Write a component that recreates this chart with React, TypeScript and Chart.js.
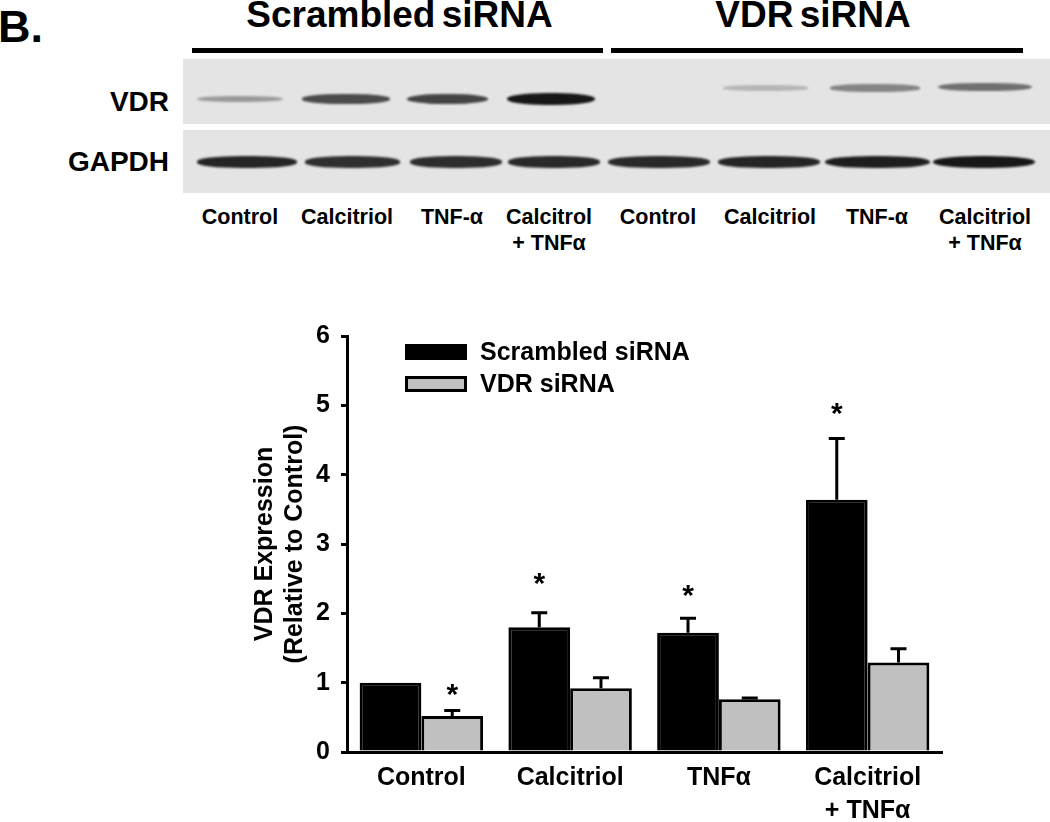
import React, { useEffect, useRef } from 'react';
import { Chart, registerables } from 'chart.js';

Chart.register(...registerables);
Chart.defaults.font.family = '"Liberation Sans", Arial, sans-serif';

// ---------- Bar chart data ----------
const categories: string[][] = [['Control'], ['Calcitriol'], ['TNFα'], ['Calcitriol', '+ TNFα']];
const seriesNames = ['Scrambled siRNA', 'VDR siRNA'];
const scrambledMeans = [1.0, 1.8, 1.72, 3.64];
const scrambledSEM = [0, 0.21, 0.21, 0.88];
const vdrMeans = [0.52, 0.92, 0.76, 1.29];
const vdrSEM = [0.08, 0.15, 0.02, 0.2];
const scrambledStars: (number | null)[] = [null, 2.54, 2.37, 4.99];
const vdrStars: (number | null)[] = [0.94, null, null, null];
const yTicks = [0, 1, 2, 3, 4, 5, 6];
const yTitle = ['VDR Expression', '(Relative to Control)'];

// ---------- Western blot data ----------
const panelLabel = 'B.';
const groupLabels = ['Scrambled siRNA', 'VDR siRNA'];
const blotRows = ['VDR', 'GAPDH'];
const laneLabels: string[][] = [
  ['Control'], ['Calcitriol'], ['TNF-α'], ['Calcitrol', '+ TNFα'],
  ['Control'], ['Calcitriol'], ['TNF-α'], ['Calcitriol', '+ TNFα'],
];
const vdrBandDensity = [0.35, 0.72, 0.75, 0.97, 0.0, 0.22, 0.45, 0.55];
const gapdhBandDensity = [0.9, 0.85, 0.86, 0.88, 0.88, 0.9, 0.93, 0.97];

// ---------- Blot layout (positions/sizes only) ----------
const laneLabelCenters = [240, 347, 452, 549, 658, 770, 877, 985];
const vdrBandCenters = [240, 346, 447, 551, 659, 765, 875, 985];
const vdrBandWidths = [86, 88, 81, 88, 90, 85, 90, 94];
const vdrBandY = [99, 99, 99, 99, 88, 88, 88, 87];
const gapdhBandCenters = [247, 352, 456, 554, 659, 769, 877, 984];
const gapdhBandWidths = [100, 95, 92, 92, 102, 102, 105, 102];
const gapdhBandY = 162;

const FONT = '"Liberation Sans", Arial, sans-serif';

const overlayPlugin = {
  id: 'overlay',
  afterDatasetsDraw(chart: any) {
    const ctx = chart.ctx as CanvasRenderingContext2D;
    const ys = chart.scales.y;
    const ca = chart.chartArea;
    chart.data.datasets.forEach((ds: any, di: number) => {
      const meta = chart.getDatasetMeta(di);
      meta.data.forEach((bar: any, i: number) => {
        const v = ds.data[i];
        const e = ds.errors[i];
        if (e > 0) {
          const yb = ys.getPixelForValue(v);
          const yt = ys.getPixelForValue(v + e);
          ctx.save();
          ctx.strokeStyle = '#000';
          ctx.lineWidth = 3;
          ctx.beginPath();
          ctx.moveTo(bar.x, yb);
          ctx.lineTo(bar.x, yt);
          ctx.moveTo(bar.x - 8, yt);
          ctx.lineTo(bar.x + 8, yt);
          ctx.stroke();
          ctx.restore();
        }
        const s = ds.stars[i];
        if (s != null) {
          ctx.save();
          ctx.fillStyle = '#000';
          ctx.font = `bold 30px ${FONT}`;
          ctx.textAlign = 'center';
          ctx.textBaseline = 'alphabetic';
          ctx.fillText('*', bar.x, ys.getPixelForValue(s) + 17);
          ctx.restore();
        }
      });
    });
    // legend
    const lx = ca.left + 58;
    const ly = ca.top + 8;
    chart.data.datasets.forEach((ds: any, i: number) => {
      const by = ly + i * 32;
      ctx.save();
      ctx.fillStyle = ds.backgroundColor;
      ctx.fillRect(lx, by, 62, 16);
      ctx.strokeStyle = '#000';
      ctx.lineWidth = 3;
      ctx.strokeRect(lx + 1.5, by + 1.5, 59, 13);
      ctx.fillStyle = '#000';
      ctx.font = `bold 25px ${FONT}`;
      ctx.textAlign = 'left';
      ctx.textBaseline = 'middle';
      ctx.fillText(ds.label, lx + 75, by + 9);
      ctx.restore();
    });
  },
};

function textTop(baseline: number, size: number, lineHeight: number) {
  return baseline - ((lineHeight - 1.117 * size) / 2 + 0.905 * size);
}

function Blot() {
  const abs: React.CSSProperties = { position: 'absolute' };
  return (
    <div style={{ ...abs, left: 0, top: 0, width: 1050, height: 260, fontFamily: FONT, fontWeight: 'bold', color: '#000' }}>
      <div style={{ ...abs, left: -2, top: textTop(42, 45, 45), fontSize: 45, lineHeight: '45px' }}>{panelLabel}</div>
      {groupLabels.map((g, i) => (
        <div key={g} style={{ ...abs, left: (i === 0 ? 399.5 : 813) - 200, width: 400, textAlign: 'center', top: textTop(27, 37, 37), fontSize: 37, lineHeight: '37px', whiteSpace: 'nowrap', wordSpacing: -4 }}>{g}</div>
      ))}
      <div style={{ ...abs, left: 192, top: 48, width: 411, height: 5, background: '#000' }} />
      <div style={{ ...abs, left: 611, top: 48, width: 412, height: 5, background: '#000' }} />
      <div style={{ ...abs, left: 183, top: 59, width: 867, height: 65, background: '#e4e4e4' }} />
      <div style={{ ...abs, left: 183, top: 130, width: 867, height: 63, background: '#e4e4e4' }} />
      {vdrBandDensity.map((d, i) => d > 0.01 ? (
        <div key={'v' + i} style={{ ...abs, left: vdrBandCenters[i] - vdrBandWidths[i] / 2, width: vdrBandWidths[i], top: vdrBandY[i] - (3 + 10 * d) / 2, height: 3 + 10 * d, background: `rgba(15,15,15,${d})`, borderRadius: '45%', filter: 'blur(1.3px)' }} />
      ) : null)}
      {gapdhBandDensity.map((d, i) => (
        <div key={'g' + i} style={{ ...abs, left: gapdhBandCenters[i] - gapdhBandWidths[i] / 2, width: gapdhBandWidths[i], top: gapdhBandY - (2 + 11 * d) / 2, height: 2 + 11 * d, background: `rgba(15,15,15,${d})`, borderRadius: '45%', filter: 'blur(1.3px)' }} />
      ))}
      <div style={{ ...abs, left: 0, width: 169, textAlign: 'right', top: textTop(111.7, 28, 28), fontSize: 28, lineHeight: '28px' }}>{blotRows[0]}</div>
      <div style={{ ...abs, left: 0, width: 169, textAlign: 'right', top: textTop(171.7, 28, 28), fontSize: 28, lineHeight: '28px' }}>{blotRows[1]}</div>
      {laneLabels.map((l, i) => (
        <div key={'l' + i} style={{ ...abs, left: laneLabelCenters[i] - 70, width: 140, textAlign: 'center', top: textTop(224, 21.5, 26), fontSize: 21.5, lineHeight: '26px', whiteSpace: 'nowrap' }}>
          {l.map((t, j) => <div key={j}>{t}</div>)}
        </div>
      ))}
    </div>
  );
}

export default function App() {
  const ref = useRef<HTMLCanvasElement | null>(null);
  useEffect(() => {
    if (!ref.current) return;
    const chart = new Chart(ref.current, {
      type: 'bar',
      data: {
        labels: categories as any,
        datasets: [
          { label: seriesNames[0], data: scrambledMeans, backgroundColor: '#000000', borderColor: '#000', borderWidth: 3, errors: scrambledSEM, stars: scrambledStars } as any,
          { label: seriesNames[1], data: vdrMeans, backgroundColor: '#c0c0c0', borderColor: '#000', borderWidth: 3, errors: vdrSEM, stars: vdrStars } as any,
        ],
      },
      options: {
        responsive: false,
        animation: false,
        events: [],
        layout: { padding: { left: 240, top: 336, right: 108, bottom: 0 } },
        plugins: { legend: { display: false }, tooltip: { enabled: false } },
        datasets: { bar: { categoryPercentage: 0.83, barPercentage: 1 } },
        scales: {
          x: {
            grid: { display: false, drawTicks: false },
            border: { display: true, color: '#000', width: 3 },
            ticks: { color: '#000', font: { size: 25, weight: 'bold', lineHeight: 1.32 }, padding: 10, maxRotation: 0, autoSkip: false },
            afterFit: (s: any) => { s.height = 70; },
          },
          y: {
            min: 0,
            max: 6,
            afterBuildTicks: (s: any) => { s.ticks = yTicks.map((v) => ({ value: v })); },
            ticks: { color: '#000', font: { size: 25, weight: 'bold' }, padding: 11 },
            grid: { drawOnChartArea: false, drawTicks: true, tickLength: 6, color: '#000', lineWidth: 3 },
            border: { display: true, color: '#000', width: 3 },
            title: { display: true, text: yTitle, color: '#000', font: { size: 25, weight: 'bold', lineHeight: 1.2 }, padding: { top: 10, bottom: 0 } },
            afterFit: (s: any) => { s.width = 107; },
          },
        },
      } as any,
      plugins: [overlayPlugin],
    });
    return () => chart.destroy();
  }, []);
  return (
    <div style={{ position: 'absolute', left: 0, top: 0, width: 1050, height: 822, background: '#fff', overflow: 'hidden' }}>
      <Blot />
      <canvas ref={ref} width={1050} height={822} style={{ position: 'absolute', left: 0, top: 0, width: 1050, height: 822 }} />
    </div>
  );
}
